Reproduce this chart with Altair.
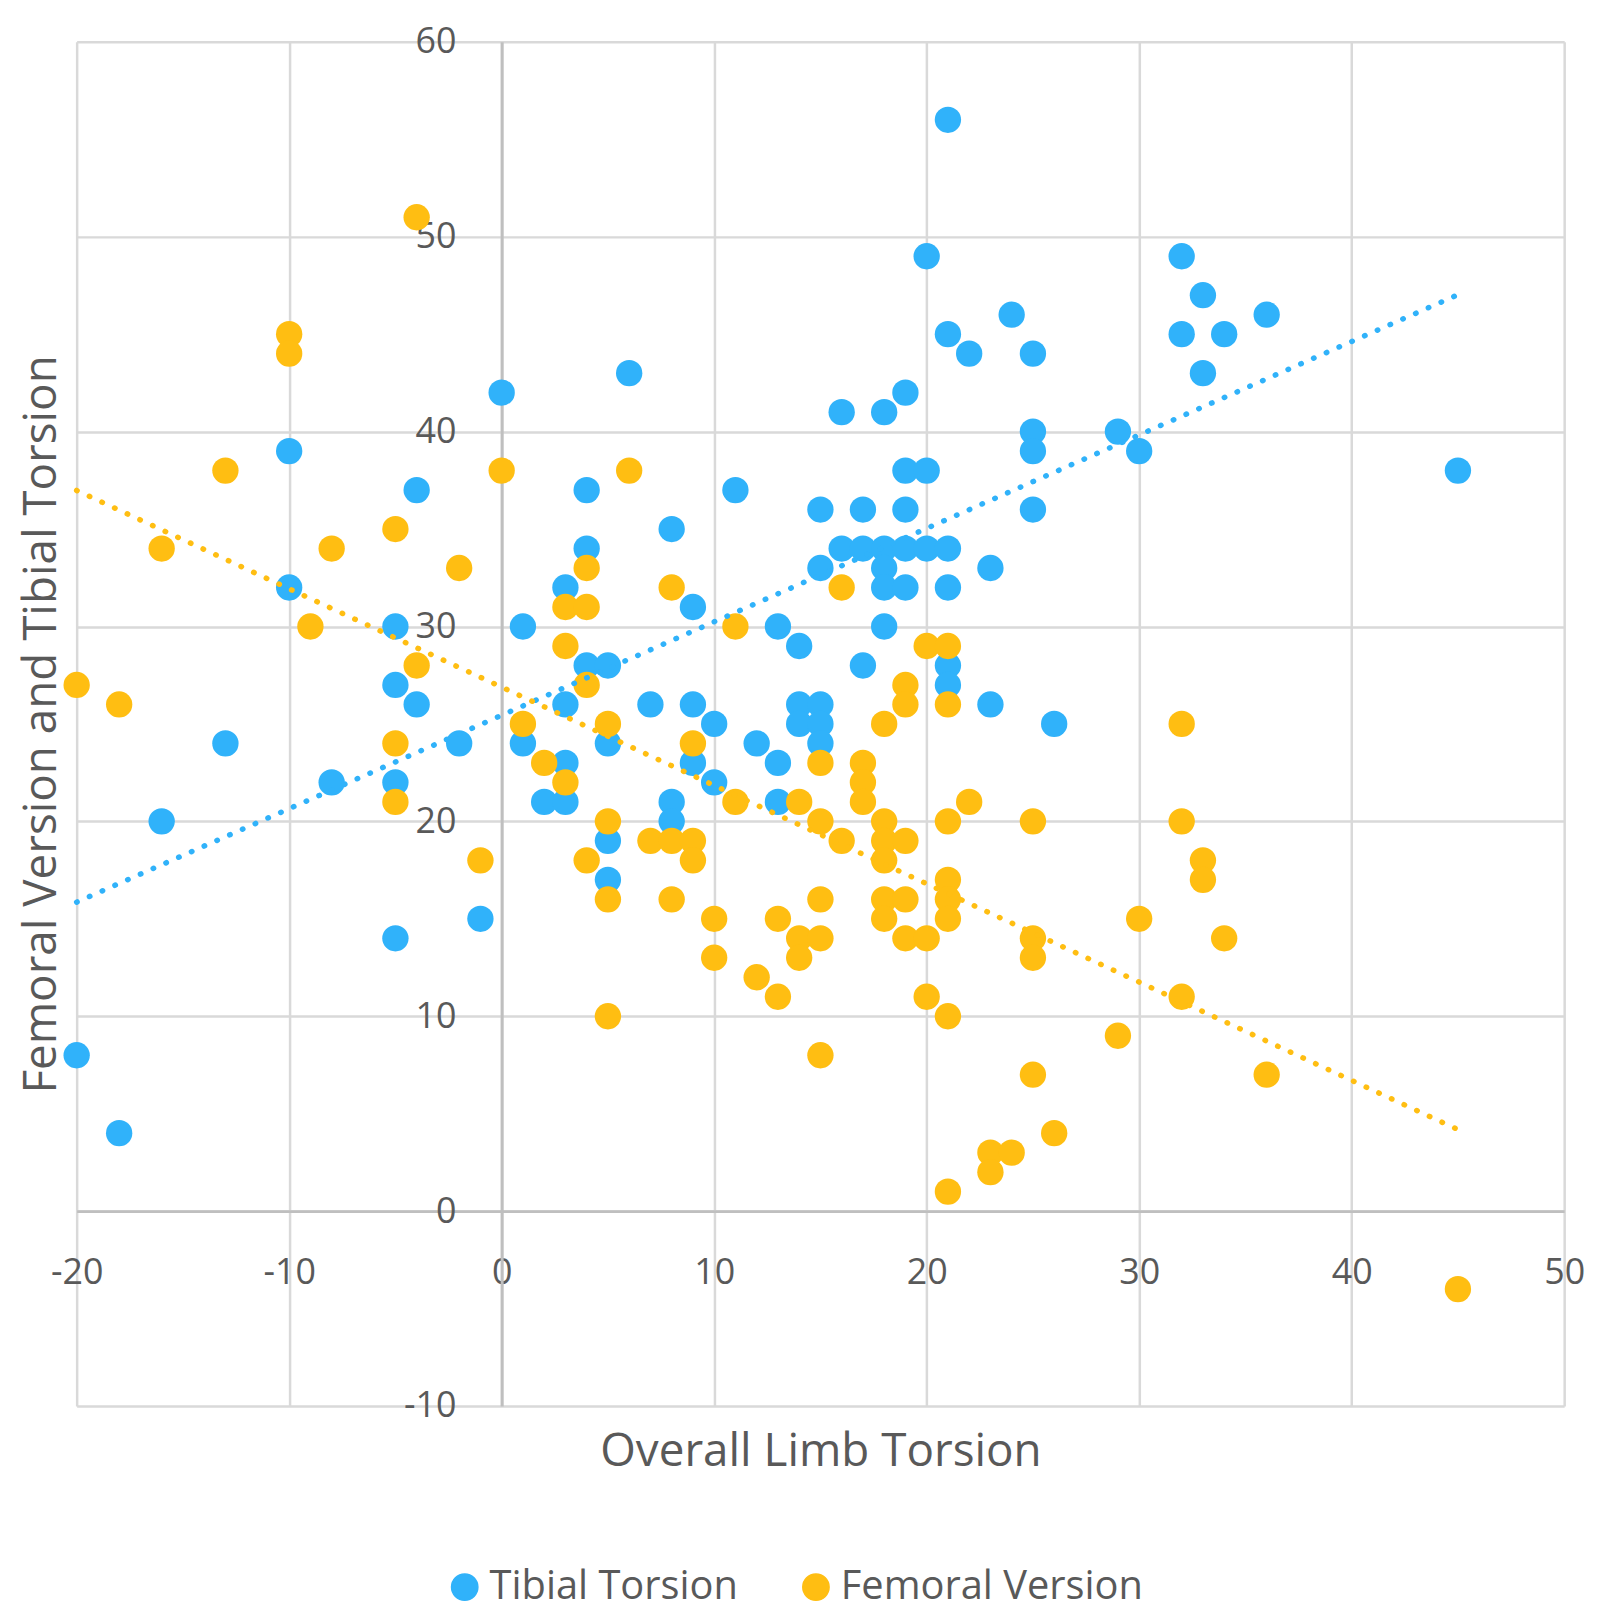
import altair as alt
import pandas as pd

# Overall limb torsion (x) against each component (y)
tibial_x = [21, 20, 32, 33, 24, 36, 21, 32, 34, 22, 25, 6, 33, 0, 19, 16, 18, 25, 29, -10,
            25, 30, 19, 20, 45, -4, 4, 11, 15, 17, 19, 25, 8, 4, 16, 17, 18, 19, 20, 21,
            15, 18, 23, -10, 3, 18, 19, 21, 9, -5, 1, 13, 18, 14, 4, 5, 17, 21, -5, 21,
            -4, 3, 7, 9, 14, 15, 23, 10, 14, 15, 26, -13, -2, 1, 5, 12, 15, 3, 9, 13,
            -8, -5, 10, 2, 3, 8, 13, -16, 8, 5, 5, -1, -5, -20, -18]
tibial_y = [56, 49, 49, 47, 46, 46, 45, 45, 45, 44, 44, 43, 43, 42, 42, 41, 41, 40, 40, 39,
            39, 39, 38, 38, 38, 37, 37, 37, 36, 36, 36, 36, 35, 34, 34, 34, 34, 34, 34, 34,
            33, 33, 33, 32, 32, 32, 32, 32, 31, 30, 30, 30, 30, 29, 28, 28, 28, 28, 27, 27,
            26, 26, 26, 26, 26, 26, 26, 25, 25, 25, 25, 24, 24, 24, 24, 24, 24, 23, 23, 23,
            22, 22, 22, 21, 21, 21, 21, 20, 20, 19, 17, 15, 14, 8, 4]

femoral_x = [-4, -10, -10, -13, 0, 6, -5, -16, -8, -2, 4, 8, 16, 3, 4, -9, 11, 3, 20, 21,
             -4, -20, 4, 19, -18, 19, 21, 1, 5, 18, 32, -5, 9, 2, 15, 17, 3, 17, -5, 11,
             14, 17, 22, 5, 15, 18, 21, 25, 32, 7, 8, 9, 16, 18, 19, -1, 4, 9, 18, 33,
             21, 33, 5, 8, 15, 18, 19, 21, 10, 13, 18, 21, 30, 14, 15, 19, 20, 25, 34, 10,
             14, 25, 12, 13, 20, 32, 5, 21, 29, 15, 25, 36, 26, 23, 24, 23, 21, 45]
femoral_y = [51, 45, 44, 38, 38, 38, 35, 34, 34, 33, 33, 32, 32, 31, 31, 30, 30, 29, 29, 29,
             28, 27, 27, 27, 26, 26, 26, 25, 25, 25, 25, 24, 24, 23, 23, 23, 22, 22, 21, 21,
             21, 21, 21, 20, 20, 20, 20, 20, 20, 19, 19, 19, 19, 19, 19, 18, 18, 18, 18, 18,
             17, 17, 16, 16, 16, 16, 16, 16, 15, 15, 15, 15, 15, 14, 14, 14, 14, 14, 14, 13,
             13, 13, 12, 11, 11, 11, 10, 10, 9, 8, 7, 7, 4, 3, 3, 2, 1, -4]

series_names = ['Tibial Torsion', 'Femoral Version']
series_colors = ['#30B2FA', '#FFBE12']
x_ticks = [-20, -10, 0, 10, 20, 30, 40, 50]
y_ticks = [-10, 0, 10, 20, 30, 40, 50, 60]

df = pd.concat([
    pd.DataFrame({'x': tibial_x, 'y': tibial_y, 'series': series_names[0]}),
    pd.DataFrame({'x': femoral_x, 'y': femoral_y, 'series': series_names[1]}),
], ignore_index=True)

W, H = 1495, 1371
x_dom = [x_ticks[0], x_ticks[-1]]
y_dom = [y_ticks[0], y_ticks[-1]]
# axes cross at the origin, like Excel
x_axis_shift = -H * (0 - y_dom[0]) / (y_dom[1] - y_dom[0])
y_axis_shift = -W * (0 - x_dom[0]) / (x_dom[1] - x_dom[0])

FONT = 'Open Sans'
GREY = '#595959'
plain_label = "'' + datum.value"   # hyphen minus instead of the typographic one

x_enc = alt.X('x:Q', title='Overall Limb Torsion',
              scale=alt.Scale(domain=x_dom, nice=False, zero=False),
              axis=alt.Axis(values=x_ticks, offset=x_axis_shift, ticks=False,
                            labelPadding=45, labelFlush=False, labelOverlap=False,
                            labelExpr=plain_label,
                            titleY=242, titleBaseline='middle'))
y_enc = alt.Y('y:Q', title='Femoral Version and Tibial Torsion',
              scale=alt.Scale(domain=y_dom, nice=False, zero=False),
              axis=alt.Axis(values=y_ticks, offset=y_axis_shift, ticks=False,
                            labelPadding=46, labelOverlap=False,
                            labelExpr=plain_label,
                            titleX=-462, titleBaseline='middle', titleAngle=-90))
color_scale = alt.Scale(domain=series_names, range=series_colors)

points = alt.Chart(df).mark_circle(size=700, opacity=1).encode(
    x=x_enc,
    y=y_enc,
    color=alt.Color('series:N', scale=color_scale, title=None,
                    legend=alt.Legend(orient='none', direction='horizontal',
                                      legendX=370, legendY=1533,
                                      symbolType='circle', symbolSize=700,
                                      labelFontSize=40, labelColor=GREY, labelFont=FONT,
                                      labelLimit=0, labelOffset=5, columnPadding=58)),
    order=alt.Order('series_rank:Q')
).transform_calculate(
    series_rank="datum.series == 'Tibial Torsion' ? 0 : 1"
)

trend = alt.Chart(df).transform_regression(
    'x', 'y', groupby=['series'], extent=[-20, 45]
).mark_line(strokeWidth=5.5, strokeDash=[0.5, 13.5], strokeCap='round').encode(
    x='x:Q',
    y='y:Q',
    color=alt.Color('series:N', scale=color_scale, legend=None)
)

chart = alt.layer(points, trend).properties(
    width=W,
    height=H,
    autosize=alt.AutoSizeParams(type='none'),
    padding={'left': 69, 'top': 30, 'right': 36, 'bottom': 202},
).configure(
    font=FONT
).configure_view(
    stroke=None
).configure_axis(
    grid=True,
    gridColor='#D9D9D9',
    gridWidth=2.5,
    domainColor='#BFBFBF',
    domainWidth=3,
    labelFont=FONT,
    labelFontSize=36,
    labelColor=GREY,
    titleFont=FONT,
    titleFontSize=46,
    titleFontWeight='normal',
    titleColor=GREY,
)

chart.save('out.html', embed_options={'renderer': 'svg', 'actions': False})
